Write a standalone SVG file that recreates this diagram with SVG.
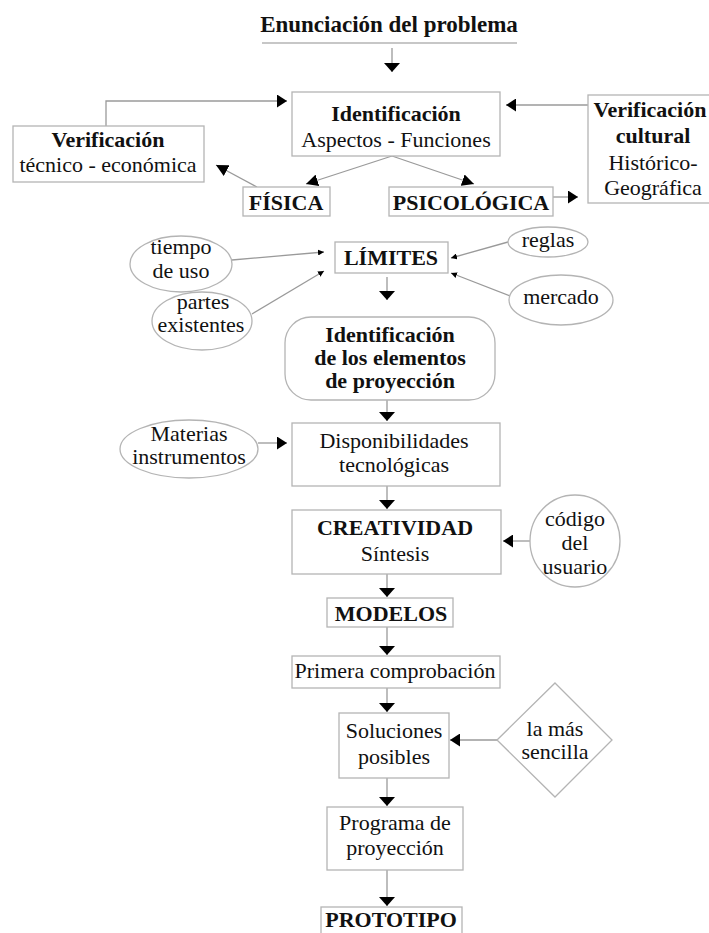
<svg xmlns="http://www.w3.org/2000/svg" width="709" height="933" viewBox="0 0 709 933">
  <style>
    text { font-family: "Liberation Serif", "Times New Roman", serif; font-size: 22px; fill: #111; text-anchor: middle; }
    .b { font-weight: bold; }
    .title { font-size: 23px; }
    .box { fill: #fff; stroke: #b4b4b4; stroke-width: 1.3; }
    .link { fill: none; stroke: #9a9a9a; stroke-width: 1.3; }
  </style>
  <defs>
    <marker id="down" viewBox="0 0 10 10" refX="10" refY="5" markerUnits="userSpaceOnUse" markerWidth="9" markerHeight="16" orient="auto" preserveAspectRatio="none">
      <path d="M0,0 L10,5 L0,10 Z" fill="#000"/>
    </marker>
    <marker id="side" viewBox="0 0 10 10" refX="10" refY="5" markerUnits="userSpaceOnUse" markerWidth="10" markerHeight="13" orient="auto" preserveAspectRatio="none">
      <path d="M0,0 L10,5 L0,10 Z" fill="#000"/>
    </marker>
    <marker id="diag" viewBox="0 0 10 10" refX="10" refY="5" markerUnits="userSpaceOnUse" markerWidth="12" markerHeight="12" orient="auto" preserveAspectRatio="none">
      <path d="M0,0 L10,5 L0,10 Z" fill="#000"/>
    </marker>
    <marker id="small" viewBox="0 0 10 10" refX="10" refY="5" markerUnits="userSpaceOnUse" markerWidth="6" markerHeight="6" orient="auto" preserveAspectRatio="none">
      <path d="M0,0 L10,5 L0,10 Z" fill="#000"/>
    </marker>
  </defs>

  <rect width="709" height="933" fill="#fff"/>

  <!-- connectors -->
  <g id="connectors">
    <line class="link" x1="392" y1="48" x2="392" y2="72" marker-end="url(#down)"/>
    <path class="link" d="M106,126 V101 H287" marker-end="url(#side)"/>
    <line class="link" x1="588" y1="105" x2="506" y2="105" marker-end="url(#side)"/>
    <line class="link" x1="392" y1="156" x2="306" y2="184" marker-end="url(#diag)"/>
    <line class="link" x1="392" y1="156" x2="474" y2="184" marker-end="url(#diag)"/>
    <line class="link" x1="257" y1="187" x2="216" y2="165" marker-end="url(#diag)"/>
    <line class="link" x1="553" y1="197" x2="578" y2="197" marker-end="url(#side)"/>
    <line class="link" x1="232" y1="260" x2="324" y2="252" marker-end="url(#small)"/>
    <line class="link" x1="252" y1="314" x2="324" y2="271" marker-end="url(#small)"/>
    <line class="link" x1="508" y1="242" x2="451" y2="258" marker-end="url(#small)"/>
    <line class="link" x1="510" y1="296" x2="451" y2="273" marker-end="url(#small)"/>
    <line class="link" x1="387" y1="277" x2="387" y2="300" marker-end="url(#down)"/>
    <line class="link" x1="387" y1="400" x2="387" y2="421" marker-end="url(#down)"/>
    <line class="link" x1="258" y1="443" x2="287" y2="443" marker-end="url(#side)"/>
    <line class="link" x1="387" y1="486" x2="387" y2="509" marker-end="url(#down)"/>
    <line class="link" x1="530" y1="541" x2="503" y2="541" marker-end="url(#side)"/>
    <line class="link" x1="387" y1="574" x2="387" y2="597" marker-end="url(#down)"/>
    <line class="link" x1="387" y1="627" x2="387" y2="655" marker-end="url(#down)"/>
    <line class="link" x1="387" y1="688" x2="387" y2="712" marker-end="url(#down)"/>
    <line class="link" x1="497" y1="740" x2="450" y2="740" marker-end="url(#side)"/>
    <line class="link" x1="387" y1="778" x2="387" y2="806" marker-end="url(#down)"/>
    <line class="link" x1="387" y1="870" x2="387" y2="906" marker-end="url(#down)"/>
  </g>

  <g id="enunciacion">
    <text class="b title" x="389" y="32">Enunciación del problema</text>
    <line x1="262" y1="43" x2="517" y2="43" stroke="#b4b4b4" stroke-width="1.3"/>
  </g>

  <g id="identificacion">
    <rect class="box" x="292" y="92" width="208" height="64"/>
    <text class="b" x="396" y="121">Identificación</text>
    <text x="396" y="147">Aspectos - Funciones</text>
  </g>

  <g id="verif-tecnica">
    <rect class="box" x="13" y="126" width="191" height="56"/>
    <text class="b" x="108" y="147">Verificación</text>
    <text x="108" y="172">técnico - económica</text>
  </g>

  <g id="verif-cultural">
    <rect class="box" x="588" y="95" width="140" height="108"/>
    <text class="b" x="650" y="117">Verificación</text>
    <text class="b" x="653" y="143">cultural</text>
    <text x="653" y="170">Histórico-</text>
    <text x="653" y="195">Geográfica</text>
  </g>

  <g id="fisica">
    <rect class="box" x="243" y="187" width="87" height="29"/>
    <text class="b" x="286" y="210">FÍSICA</text>
  </g>

  <g id="psicologica">
    <rect class="box" x="389" y="187" width="164" height="29"/>
    <text class="b" x="471" y="210">PSICOLÓGICA</text>
  </g>

  <g id="limites">
    <rect class="box" x="335" y="242" width="113" height="31"/>
    <text class="b" x="391" y="265">LÍMITES</text>
  </g>

  <g id="tiempo-uso">
    <ellipse class="box" cx="181" cy="264" rx="51" ry="28"/>
    <text x="181" y="254">tiempo</text>
    <text x="181" y="278">de uso</text>
  </g>

  <g id="partes-existentes">
    <ellipse class="box" cx="202" cy="321" rx="50" ry="29"/>
    <text x="203" y="309">partes</text>
    <text x="201" y="332">existentes</text>
  </g>

  <g id="reglas">
    <ellipse class="box" cx="548" cy="242" rx="40" ry="15"/>
    <text x="548" y="247">reglas</text>
  </g>

  <g id="mercado">
    <ellipse class="box" cx="561" cy="300" rx="52" ry="25"/>
    <text x="561" y="304">mercado</text>
  </g>

  <g id="elementos-proyeccion">
    <rect class="box" x="285" y="317" width="210" height="83" rx="26" ry="26"/>
    <text class="b" x="390" y="342">Identificación</text>
    <text class="b" x="390" y="365">de los elementos</text>
    <text class="b" x="390" y="388">de proyección</text>
  </g>

  <g id="materias">
    <ellipse class="box" cx="189" cy="449" rx="69" ry="29"/>
    <text x="189" y="441">Materias</text>
    <text x="189" y="464">instrumentos</text>
  </g>

  <g id="disponibilidades">
    <rect class="box" x="292" y="423" width="208" height="63"/>
    <text x="394" y="448">Disponibilidades</text>
    <text x="394" y="472">tecnológicas</text>
  </g>

  <g id="creatividad">
    <rect class="box" x="292" y="510" width="209" height="64"/>
    <text class="b" x="395" y="535">CREATIVIDAD</text>
    <text x="395" y="561">Síntesis</text>
  </g>

  <g id="codigo-usuario">
    <ellipse class="box" cx="575" cy="541" rx="45" ry="46"/>
    <text x="575" y="526">código</text>
    <text x="575" y="550">del</text>
    <text x="575" y="574">usuario</text>
  </g>

  <g id="modelos">
    <rect class="box" x="327" y="598" width="126" height="29"/>
    <text class="b" x="391" y="621">MODELOS</text>
  </g>

  <g id="primera-comprobacion">
    <rect class="box" x="292" y="656" width="208" height="32"/>
    <text x="395" y="678">Primera comprobación</text>
  </g>

  <g id="soluciones">
    <rect class="box" x="339" y="713" width="110" height="65"/>
    <text x="394" y="738">Soluciones</text>
    <text x="394" y="764">posibles</text>
  </g>

  <g id="mas-sencilla">
    <polygon class="box" points="555,683 612,740 555,797 497,740"/>
    <text x="555" y="736">la más</text>
    <text x="555" y="759">sencilla</text>
  </g>

  <g id="programa">
    <rect class="box" x="327" y="807" width="136" height="63"/>
    <text x="395" y="830">Programa de</text>
    <text x="395" y="855">proyección</text>
  </g>

  <g id="prototipo">
    <rect class="box" x="321" y="907" width="141" height="40"/>
    <text class="b" x="391" y="927">PROTOTIPO</text>
  </g>
</svg>
